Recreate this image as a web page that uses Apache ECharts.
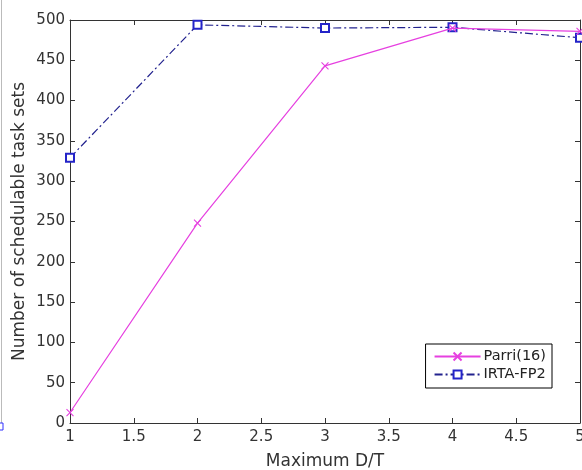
<!DOCTYPE html>
<html><head><meta charset="utf-8">
<script src="https://cdn.jsdelivr.net/npm/echarts@6/dist/echarts.min.js"></script>
<style>html,body{margin:0;padding:0;background:#fff}#c{width:582px;height:470px}</style>
</head><body><div id="c"></div>
<script>
const xValues = [1, 2, 3, 4, 5];
const parri = [13, 248, 443, 490, 486];
const irta = [329, 494, 490, 491, 478];
const seriesNames = ['Parri(16)', 'IRTA-FP2'];
const xTitle = 'Maximum D/T';
const yTitle = 'Number of schedulable task sets';

const chart = echarts.init(document.getElementById('c'));
const font = 'DejaVu Sans';
const crossPath = 'path://M0,0L10,10M10,0L0,10';
const axisCommon = {
  axisLine: {show: true, onZero: false, lineStyle: {color: '#333', width: 1}},
  axisTick: {show: true, inside: true, length: 5, lineStyle: {color: '#333'}},
  splitLine: {show: false}
};
chart.setOption({
  animation: false,
  textStyle: {fontFamily: font},
  grid: {left: 70, right: 2, top: 20, bottom: 47, containLabel: false, outerBoundsMode: 'none'},
  legend: {
    right: 30, top: 344, orient: 'vertical', itemWidth: 46, itemHeight: 10, itemGap: 3,
    borderColor: '#000', borderWidth: 1, backgroundColor: '#fff', padding: [5, 6, 6, 8],
    textStyle: {fontFamily: font, fontSize: 14.5, color: '#222', padding: [0, 0, 0, -2]},
    data: seriesNames
  },
  xAxis: [
    Object.assign({type: 'value', min: 1, max: 5, interval: 0.5, position: 'bottom',
      name: xTitle, nameLocation: 'middle', nameGap: 30, nameMoveOverlap: false,
      nameTextStyle: {fontFamily: font, fontSize: 17, color: '#333'},
      axisLabel: {fontFamily: font, fontSize: 15, color: '#333', margin: 7}}, axisCommon),
    Object.assign({type: 'value', min: 1, max: 5, interval: 0.5, position: 'top',
      axisLabel: {show: false}}, axisCommon)
  ],
  yAxis: [
    Object.assign({type: 'value', min: 0, max: 500, interval: 50, position: 'left',
      name: yTitle, nameLocation: 'middle', nameGap: 42, nameRotate: 90, nameMoveOverlap: false,
      nameTextStyle: {fontFamily: font, fontSize: 17, color: '#333'},
      axisLabel: {fontFamily: font, fontSize: 15, color: '#333', margin: 5}}, axisCommon),
    Object.assign({type: 'value', min: 0, max: 500, interval: 50, position: 'right',
      axisLabel: {show: false}}, axisCommon)
  ],
  series: [
    {
      name: seriesNames[0], type: 'line',
      data: xValues.map((x, i) => [x, parri[i]]),
      symbol: crossPath, symbolSize: 7,
      itemStyle: {color: '#e640e0', borderColor: '#e640e0', borderWidth: 1.1},
      lineStyle: {color: '#e640e0', width: 1.2},
      z: 3
    },
    {
      name: seriesNames[1], type: 'line',
      data: xValues.map((x, i) => [x, irta[i]]),
      symbol: 'emptyRect', symbolSize: 8,
      itemStyle: {color: '#2424c8', borderColor: '#2424c8', borderWidth: 1.1},
      lineStyle: {color: '#22228e', width: 1.2, type: [8, 3, 2, 3]},
      z: 2
    }
  ],
  graphic: [
    {type: 'line', shape: {x1: 1.5, y1: 0, x2: 1.5, y2: 430}, style: {stroke: '#bbb', lineWidth: 1}},
    {type: 'rect', shape: {x: -4, y: 423, width: 7, height: 7}, style: {fill: '#fff', stroke: '#3030ff', lineWidth: 1}}
  ]
});
</script></body></html>
